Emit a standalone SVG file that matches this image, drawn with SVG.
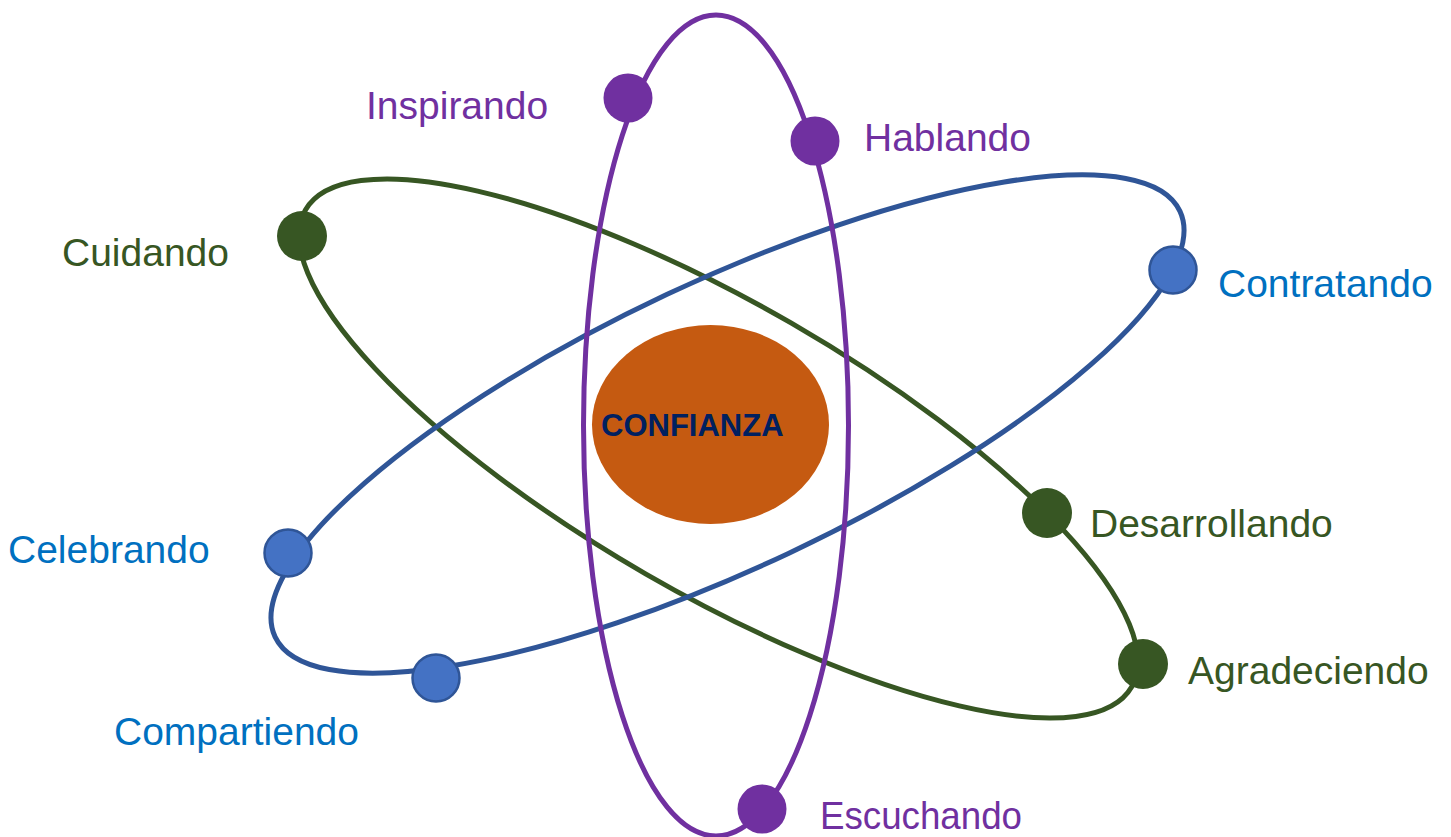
<svg xmlns="http://www.w3.org/2000/svg" width="1451" height="837" viewBox="0 0 1451 837">
<style>
.orbit{fill:none;stroke-width:5}
.lbl{font-family:"Liberation Sans",Arial,sans-serif;font-size:39px}
.pu{fill:#7030A0}
.gr{fill:#375623}
.bl{fill:#4472C4;stroke:#2F5597;stroke-width:2.5}
</style>
<rect width="1451" height="837" fill="#fff"/>
<g id="connectors">
<ellipse class="orbit" cx="718.5" cy="448.5" rx="477" ry="145" transform="rotate(30 718.5 448.5)" stroke="#375623"/>
<ellipse class="orbit" cx="727.5" cy="424" rx="500" ry="143" transform="rotate(-25.2 727.5 424)" stroke="#2F5597"/>
<ellipse class="orbit" cx="716" cy="425.5" rx="132.5" ry="410.5" stroke="#7030A0"/>
</g>
<g id="confianza">
<ellipse cx="710.5" cy="424.5" rx="118.5" ry="99.5" fill="#C55A11"/>
<text x="601" y="436" font-family="Liberation Sans,Arial,sans-serif" font-weight="bold" font-size="31" fill="#002060">CONFIANZA</text>
</g>
<g id="inspirando"><circle class="pu" cx="628" cy="98" r="24.5"/><text class="lbl" x="366" y="119" fill="#7030A0">Inspirando</text></g>
<g id="hablando"><circle class="pu" cx="815" cy="141" r="24.5"/><text class="lbl" x="864" y="151" fill="#7030A0">Hablando</text></g>
<g id="escuchando"><circle class="pu" cx="762" cy="809" r="24.5"/><text class="lbl" x="820" y="829" fill="#7030A0" textLength="202" lengthAdjust="spacingAndGlyphs">Escuchando</text></g>
<g id="cuidando"><circle class="gr" cx="302" cy="236" r="25"/><text class="lbl" x="62" y="266" fill="#375623">Cuidando</text></g>
<g id="desarrollando"><circle class="gr" cx="1047" cy="513" r="25"/><text class="lbl" x="1090" y="537" fill="#375623">Desarrollando</text></g>
<g id="agradeciendo"><circle class="gr" cx="1143" cy="664" r="25"/><text class="lbl" x="1188" y="684" fill="#375623">Agradeciendo</text></g>
<g id="contratando"><circle class="bl" cx="1173" cy="270" r="23.5"/><text class="lbl" x="1218" y="297" fill="#0070C0">Contratando</text></g>
<g id="celebrando"><circle class="bl" cx="288" cy="553" r="23.5"/><text class="lbl" x="8" y="563" fill="#0070C0">Celebrando</text></g>
<g id="compartiendo"><circle class="bl" cx="436" cy="678" r="23.5"/><text class="lbl" x="114" y="745" fill="#0070C0">Compartiendo</text></g>
</svg>
